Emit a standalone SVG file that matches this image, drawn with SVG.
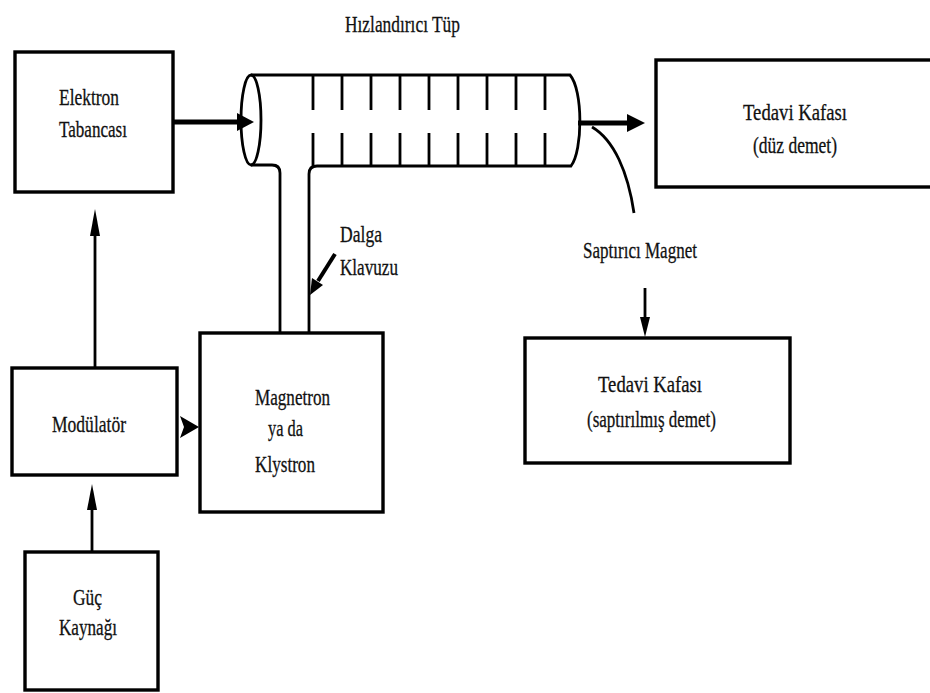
<svg xmlns="http://www.w3.org/2000/svg" width="930" height="693" viewBox="0 0 930 693">
<style>
.box{fill:#fff;stroke:#000;stroke-width:3.4}
.ln{fill:none;stroke:#000;stroke-width:2.8}
.thick{fill:none;stroke:#000;stroke-width:5}
.head{fill:#000;stroke:none}
.t{font-family:'Liberation Serif','Times New Roman',serif;font-size:24px;fill:#111;stroke:#111;stroke-width:0.3}
</style>
<rect width="930" height="693" fill="#fff"/>

<g id="tube">
  <text class="t" x="345" y="32" textLength="115" lengthAdjust="spacingAndGlyphs">Hızlandırıcı Tüp</text>
  <path class="ln" d="M251 75 L570 75 C583 90 583 150 571 166 L317 166 Q309 166 309 174 L309 333"/>
  <path class="ln" d="M251 165 L272 165 Q280 165 280 173 L280 333"/>
  <ellipse class="ln" cx="251" cy="120" rx="10" ry="45"/>
  <path class="ln" d="M313 75V110M342 75V110M371 75V110M400 75V110M429 75V110M458 75V110M487 75V110M516 75V110M545 75V110
  M313 133V166M342 133V166M371 133V166M400 133V166M429 133V166M458 133V166M487 133V166M516 133V166M545 133V166"/>
</g>

<g id="elektron">
  <rect class="box" x="15" y="52" width="158" height="140"/>
  <text class="t" x="59" y="105" textLength="60" lengthAdjust="spacingAndGlyphs">Elektron</text>
  <text class="t" x="59" y="137" textLength="68" lengthAdjust="spacingAndGlyphs">Tabancası</text>
</g>

<g id="tedavi-duz">
  <rect class="box" x="656" y="60" width="290" height="127"/>
  <text class="t" x="743" y="120" textLength="104" lengthAdjust="spacingAndGlyphs">Tedavi  Kafası</text>
  <text class="t" x="753" y="153" textLength="84" lengthAdjust="spacingAndGlyphs">(düz demet)</text>
</g>

<g id="dalga-klavuzu">
  <text class="t" x="340" y="242" textLength="42" lengthAdjust="spacingAndGlyphs">Dalga</text>
  <text class="t" x="340" y="275" textLength="58" lengthAdjust="spacingAndGlyphs">Klavuzu</text>
</g>

<g id="saptirici-magnet">
  <path class="ln" d="M592 127 C614 140 628 172 634 213"/>
  <text class="t" x="583" y="258" textLength="114" lengthAdjust="spacingAndGlyphs">Saptırıcı Magnet</text>
</g>

<g id="magnetron">
  <rect class="box" x="200" y="333" width="183" height="179"/>
  <text class="t" x="255" y="405" textLength="75" lengthAdjust="spacingAndGlyphs">Magnetron</text>
  <text class="t" x="268" y="436" textLength="35" lengthAdjust="spacingAndGlyphs">ya da</text>
  <text class="t" x="255" y="472" textLength="60" lengthAdjust="spacingAndGlyphs">Klystron</text>
</g>

<g id="modulator">
  <rect class="box" x="12" y="368" width="165" height="107"/>
  <text class="t" x="52" y="432" textLength="74" lengthAdjust="spacingAndGlyphs">Modülatör</text>
</g>

<g id="tedavi-saptirilmis">
  <rect class="box" x="525" y="338" width="265" height="125"/>
  <text class="t" x="598" y="392" textLength="104" lengthAdjust="spacingAndGlyphs">Tedavi  Kafası</text>
  <text class="t" x="587" y="427" textLength="129" lengthAdjust="spacingAndGlyphs">(saptırılmış demet)</text>
</g>

<g id="guc">
  <rect class="box" x="25" y="552" width="133" height="138"/>
  <text class="t" x="73" y="605" textLength="29" lengthAdjust="spacingAndGlyphs">Güç</text>
  <text class="t" x="59" y="635" textLength="58" lengthAdjust="spacingAndGlyphs">Kaynağı</text>
</g>

<g id="connectors">
  <line class="thick" x1="174" y1="122" x2="240" y2="122"/>
  <polygon class="head" points="237,113 254,122 237,131"/>
  <line class="thick" x1="578" y1="123" x2="630" y2="123"/>
  <polygon class="head" points="627,114 645,123 627,132"/>
  <line class="ln" x1="95" y1="368" x2="95" y2="230"/>
  <polygon class="head" points="90,236 95,209 100,236"/>
  <line class="ln" x1="92" y1="552" x2="92" y2="505"/>
  <polygon class="head" points="87,510 92,484 97,510"/>
  <polygon class="head" points="180,416 199,427 180,438 184,427"/>
  <line class="ln" x1="645" y1="288" x2="645" y2="322"/>
  <polygon class="head" points="640,317 645,337 650,317"/>
  <line style="fill:none;stroke:#000;stroke-width:4" x1="335" y1="254" x2="318" y2="281"/>
  <polygon class="head" points="312,278 310,295 323,285"/>
</g>
</svg>
